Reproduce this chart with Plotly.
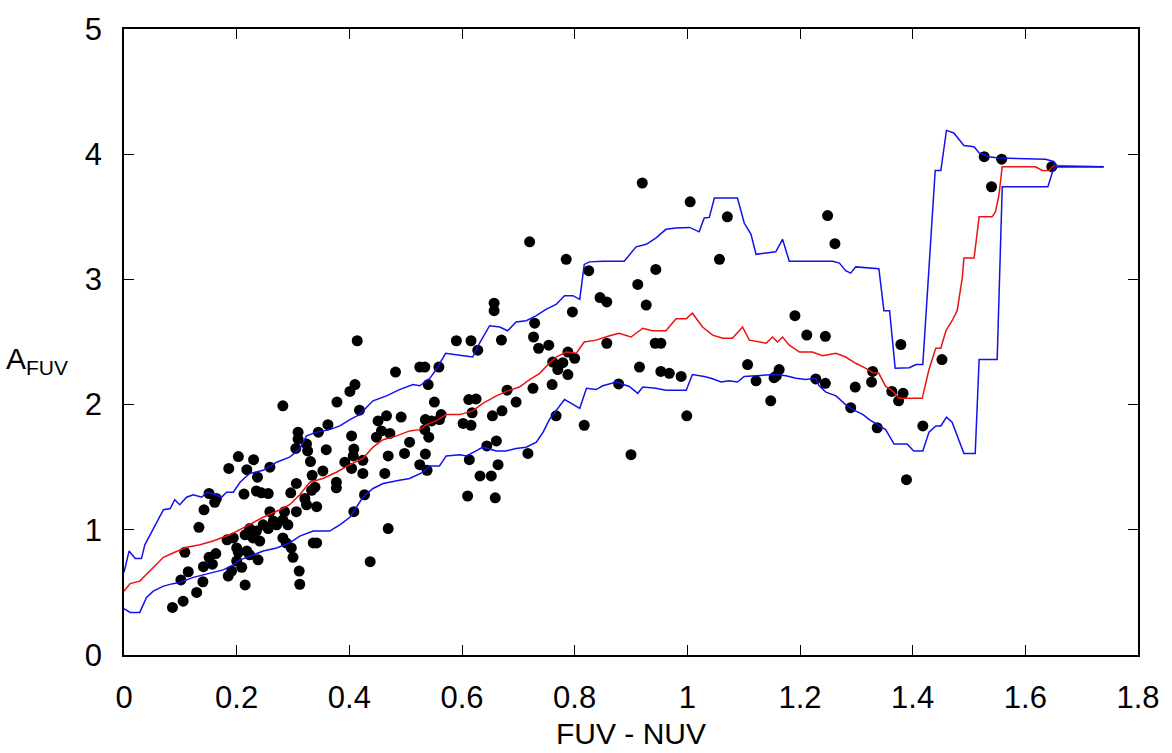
import plotly.graph_objects as go

# ---- scatter data (FUV-NUV, A_FUV) ----
pts_x = [
    0.086, 0.105, 0.129, 0.101, 0.114, 0.140, 0.141, 0.151, 0.163, 0.157, 0.108, 0.133, 0.142, 0.151,
    0.164, 0.161, 0.186, 0.203, 0.185, 0.191, 0.194, 0.200, 0.183,
    0.230, 0.218, 0.237, 0.259, 0.213, 0.235, 0.244, 0.256,
    0.215, 0.223, 0.229, 0.235, 0.247, 0.256, 0.265, 0.271, 0.282, 0.285, 0.291, 0.259, 0.241, 0.218,
    0.223, 0.238, 0.203, 0.200, 0.209, 0.215, 0.282, 0.288, 0.297, 0.300, 0.311, 0.312, 0.306, 0.342,
    0.324, 0.321, 0.336, 0.342, 0.333, 0.339, 0.306, 0.296, 0.334, 0.353, 0.392, 0.377, 0.377, 0.359,
    0.309, 0.309, 0.324, 0.305, 0.326, 0.331, 0.345, 0.362, 0.282, 0.378, 0.401,
    0.414, 0.482, 0.525, 0.534, 0.559, 0.540, 0.410, 0.418, 0.551, 0.590, 0.451, 0.466, 0.492, 0.448,
    0.472, 0.457, 0.404, 0.408, 0.407, 0.404, 0.424, 0.424, 0.469, 0.463, 0.507, 0.498, 0.535, 0.546,
    0.534, 0.541, 0.560, 0.563, 0.535, 0.525, 0.538, 0.427, 0.408, 0.469, 0.437,
    0.720, 0.785, 0.657, 0.657, 0.796, 0.616, 0.628, 0.670, 0.729, 0.727, 0.736, 0.754, 0.761, 0.770,
    0.779, 0.788, 0.788, 0.800, 0.726, 0.760, 0.696, 0.680, 0.612, 0.625, 0.618, 0.602, 0.616, 0.654,
    0.671, 0.767, 0.661, 0.644, 0.613, 0.664, 0.632, 0.652, 0.610, 0.659, 0.717,
    0.920, 1.005, 0.825, 0.944, 0.912, 0.845, 0.857, 0.927, 0.857, 0.943, 0.953, 0.915, 0.953, 0.968,
    0.989, 0.999, 0.817, 0.900, 0.878,
    1.071, 1.057, 1.191, 1.212, 1.107, 1.122, 1.163, 1.158, 1.154, 1.148, 1.249, 1.262, 1.245, 1.228,
    1.245, 1.298, 1.327, 1.329, 1.290, 1.337,
    1.527, 1.558, 1.540, 1.647, 1.379, 1.452, 1.363, 1.383, 1.375, 1.418, 1.389,
]
pts_y = [
    0.38, 0.43, 0.50, 0.60, 0.665, 0.585, 0.705, 0.78, 0.81, 0.725, 0.82, 1.02, 1.16, 1.29,
    1.25, 1.22, 1.49, 1.585, 0.63, 0.67, 0.935, 0.855, 0.92,
    1.56, 1.48, 1.42, 1.50, 1.285, 1.31, 1.295, 1.29,
    0.96, 1.01, 0.935, 0.99, 1.04, 1.01, 1.07, 1.04, 1.08, 1.145, 1.04, 1.145, 0.91, 0.83,
    0.80, 0.76, 0.82, 0.75, 0.70, 0.56, 0.935, 0.895, 0.855, 0.78, 0.67, 0.565, 1.145, 1.185,
    1.20, 1.25, 0.895, 0.895, 1.315, 1.34, 1.37, 1.295, 1.435, 1.47, 1.54, 1.38, 1.335, 1.64,
    1.78, 1.725, 1.685, 1.65, 1.63, 1.545, 1.78, 1.84, 1.99, 2.02, 2.105,
    2.51, 2.26, 2.30, 2.30, 2.30, 2.16, 2.16, 1.955, 2.02, 2.51, 1.87, 1.91, 1.90, 1.74,
    1.77, 1.79, 1.75, 1.645, 1.59, 1.49, 1.555, 1.45, 1.59, 1.45, 1.70, 1.61, 1.88, 1.87,
    1.80, 1.74, 1.88, 1.92, 1.605, 1.52, 1.475, 1.28, 1.145, 1.01, 0.745,
    3.30, 3.16, 2.81, 2.75, 2.74, 2.51, 2.435, 2.515, 2.65, 2.54, 2.45, 2.475, 2.34, 2.28,
    2.335, 2.24, 2.42, 2.37, 2.13, 2.16, 2.02, 2.115, 2.04, 2.045, 1.935, 1.85, 1.835, 1.91,
    1.95, 1.91, 1.71, 1.67, 1.56, 1.52, 1.43, 1.43, 1.27, 1.255, 1.61,
    3.77, 3.62, 3.07, 3.08, 2.96, 2.855, 2.82, 2.795, 2.49, 2.49, 2.49, 2.30, 2.265, 2.25,
    2.225, 1.91, 1.835, 1.60, 2.165,
    3.50, 3.16, 2.71, 2.555, 2.32, 2.19, 2.28, 2.23, 2.215, 2.03, 3.51, 3.285, 2.545, 2.205,
    2.17, 2.14, 2.18, 2.265, 1.975, 1.815,
    3.98, 3.96, 3.74, 3.90, 2.48, 2.36, 2.105, 2.09, 2.03, 1.83, 1.40,
]

# ---- running median (red) ----
med_x = [0.000, 0.011, 0.028, 0.040, 0.052, 0.070, 0.087, 0.111, 0.135, 0.158, 0.188, 0.218, 0.247,
         0.277, 0.294, 0.312, 0.330, 0.353, 0.377, 0.401, 0.424, 0.442, 0.460, 0.484, 0.507, 0.525,
         0.537, 0.554, 0.572, 0.596, 0.619, 0.637, 0.661, 0.681, 0.702, 0.720, 0.738, 0.755, 0.767,
         0.785, 0.803, 0.817, 0.838, 0.862, 0.879, 0.900, 0.921, 0.938, 0.962, 0.980, 0.998, 1.009,
         1.027, 1.045, 1.063, 1.080, 1.098, 1.110, 1.128, 1.140, 1.151, 1.160, 1.169, 1.181, 1.199,
         1.222, 1.240, 1.264, 1.281, 1.299, 1.317, 1.329, 1.340, 1.352, 1.364, 1.376, 1.417, 1.429,
         1.441, 1.450, 1.459, 1.470, 1.479, 1.488, 1.491, 1.509, 1.518, 1.541, 1.547, 1.553, 1.559,
         1.618, 1.630, 1.642, 1.651, 1.739]
med_y = [0.51, 0.57, 0.59, 0.645, 0.70, 0.78, 0.815, 0.86, 0.88, 0.91, 0.96, 1.03, 1.10,
         1.16, 1.20, 1.28, 1.38, 1.41, 1.46, 1.52, 1.57, 1.66, 1.72, 1.75, 1.79, 1.80,
         1.84, 1.87, 1.92, 1.92, 1.95, 2.01, 2.07, 2.11, 2.14, 2.20, 2.25, 2.33, 2.38,
         2.42, 2.41, 2.50, 2.515, 2.55, 2.57, 2.54, 2.61, 2.59, 2.59, 2.685, 2.685, 2.73,
         2.62, 2.555, 2.53, 2.53, 2.62, 2.515, 2.50, 2.49, 2.54, 2.50, 2.54, 2.475, 2.42,
         2.42, 2.39, 2.41, 2.38, 2.33, 2.29, 2.255, 2.25, 2.145, 2.11, 2.05, 2.05, 2.28,
         2.45, 2.45, 2.59, 2.67, 2.75, 3.01, 3.17, 3.17, 3.50, 3.50, 3.54, 3.67, 3.90,
         3.90, 3.87, 3.87, 3.91, 3.90]

# ---- upper envelope (blue) ----
up_x = [0.000, 0.009, 0.020, 0.031, 0.037, 0.052, 0.070, 0.082, 0.090, 0.099, 0.111, 0.123, 0.138,
        0.147, 0.164, 0.173, 0.182, 0.194, 0.206, 0.223, 0.247, 0.271, 0.294, 0.312, 0.324, 0.342,
        0.365, 0.383, 0.401, 0.418, 0.442, 0.466, 0.489, 0.513, 0.525, 0.543, 0.554, 0.571, 0.584,
        0.602, 0.619, 0.631, 0.649, 0.667, 0.681, 0.696, 0.714, 0.732, 0.749, 0.767, 0.782, 0.797,
        0.809, 0.817, 0.826, 0.850, 0.888, 0.909, 0.927, 0.944, 0.962, 0.980, 1.004, 1.021, 1.030,
        1.039, 1.048, 1.089, 1.101, 1.113, 1.122, 1.157, 1.169, 1.181, 1.258, 1.270, 1.281, 1.290,
        1.299, 1.340, 1.349, 1.359, 1.369, 1.394, 1.406, 1.418, 1.440, 1.450, 1.460, 1.473, 1.482,
        1.491, 1.509, 1.518, 1.535, 1.553, 1.636, 1.651, 1.654, 1.739]
up_y = [0.66, 0.83, 0.77, 0.77, 0.88, 1.01, 1.16, 1.17, 1.24, 1.20, 1.26, 1.28, 1.26,
        1.30, 1.28, 1.26, 1.30, 1.30, 1.38, 1.45, 1.475, 1.54, 1.58, 1.645, 1.75, 1.78,
        1.80, 1.83, 1.88, 1.92, 2.03, 2.07, 2.12, 2.16, 2.15, 2.21, 2.28, 2.41, 2.40,
        2.39, 2.38, 2.49, 2.63, 2.62, 2.59, 2.66, 2.67, 2.71, 2.76, 2.80, 2.87, 2.87,
        2.84, 3.12, 3.14, 3.145, 3.145, 3.26, 3.28, 3.33, 3.40, 3.41, 3.415, 3.38, 3.49,
        3.495, 3.65, 3.65, 3.45, 3.36, 3.20, 3.22, 3.32, 3.145, 3.145, 3.13, 3.07, 3.05,
        3.10, 3.085, 2.75, 2.75, 2.29, 2.295, 2.32, 2.32, 3.87, 3.87, 4.19, 4.17, 4.12,
        4.07, 4.06, 4.01, 3.98, 3.97, 3.96, 3.94, 3.90, 3.90]

# ---- lower envelope (blue) ----
lo_x = [0.000, 0.011, 0.028, 0.040, 0.052, 0.070, 0.087, 0.099, 0.123, 0.141, 0.158, 0.176, 0.194,
        0.206, 0.218, 0.247, 0.271, 0.294, 0.312, 0.336, 0.365, 0.383, 0.401, 0.424, 0.442, 0.460,
        0.489, 0.507, 0.531, 0.543, 0.560, 0.572, 0.596, 0.608, 0.625, 0.637, 0.661, 0.678, 0.696,
        0.714, 0.732, 0.744, 0.755, 0.767, 0.782, 0.794, 0.809, 0.821, 0.838, 0.850, 0.874, 0.897,
        0.912, 0.921, 0.944, 0.962, 0.998, 1.009, 1.030, 1.042, 1.060, 1.074, 1.089, 1.101, 1.122,
        1.157, 1.175, 1.193, 1.210, 1.228, 1.234, 1.246, 1.264, 1.281, 1.294, 1.312, 1.323, 1.340,
        1.352, 1.367, 1.390, 1.402, 1.418, 1.429, 1.441, 1.450, 1.460, 1.470, 1.479, 1.491, 1.511,
        1.518, 1.550, 1.559, 1.640, 1.649, 1.654, 1.739]
lo_y = [0.37, 0.34, 0.34, 0.46, 0.51, 0.55, 0.57, 0.58, 0.62, 0.64, 0.66, 0.68, 0.72,
        0.76, 0.78, 0.83, 0.855, 0.895, 0.95, 0.99, 0.99, 1.04, 1.10, 1.26, 1.33, 1.37,
        1.395, 1.41, 1.46, 1.51, 1.51, 1.59, 1.60, 1.59, 1.63, 1.66, 1.63, 1.63, 1.65,
        1.66, 1.70, 1.78, 1.88, 1.95, 2.04, 2.01, 1.97, 2.13, 2.12, 2.15, 2.18, 2.145,
        2.09, 2.14, 2.13, 2.115, 2.115, 2.24, 2.225, 2.21, 2.18, 2.19, 2.18, 2.225, 2.23,
        2.24, 2.23, 2.21, 2.20, 2.21, 2.15, 2.10, 2.07, 2.00, 1.96, 1.92, 1.88, 1.83,
        1.80, 1.685, 1.685, 1.63, 1.63, 1.78, 1.83, 1.83, 1.90, 1.86, 1.75, 1.61, 1.61,
        2.36, 2.36, 3.74, 3.74, 3.87, 3.90, 3.90]

x_ticks = [0, 0.2, 0.4, 0.6, 0.8, 1.0, 1.2, 1.4, 1.6, 1.8]
x_tick_labels = ["0", "0.2", "0.4", "0.6", "0.8", "1", "1.2", "1.4", "1.6", "1.8"]
y_ticks = [0, 1, 2, 3, 4, 5]
y_tick_labels = ["0", "1", "2", "3", "4", "5"]

FONT = "Liberation Sans, Arial, Helvetica, sans-serif"

fig = go.Figure()
fig.add_trace(go.Scatter(x=pts_x, y=pts_y, mode="markers",
                         marker=dict(color="black", size=11, line=dict(width=0)),
                         showlegend=False))
fig.add_trace(go.Scatter(x=med_x, y=med_y, mode="lines",
                         line=dict(color="#ee1111", width=1.5), showlegend=False))
fig.add_trace(go.Scatter(x=up_x, y=up_y, mode="lines",
                         line=dict(color="#1111ee", width=1.5), showlegend=False))
fig.add_trace(go.Scatter(x=lo_x, y=lo_y, mode="lines",
                         line=dict(color="#1111ee", width=1.5), showlegend=False))

axis_common = dict(showgrid=False, zeroline=False, showline=True, linecolor="black",
                   linewidth=1.5, mirror="allticks", ticks="inside", ticklen=10,
                   tickwidth=1.2, tickcolor="black",
                   tickfont=dict(family=FONT, size=31, color="black"))

fig.update_xaxes(range=[0, 1.8], tickvals=x_ticks, ticktext=x_tick_labels,
                 ticklabelstandoff=14, **axis_common)
fig.update_yaxes(range=[0, 5], tickvals=y_ticks, ticktext=y_tick_labels,
                 ticklabelstandoff=14, **axis_common)

fig.add_annotation(xref="paper", yref="paper", x=0.5, y=-0.126, yanchor="middle",
                   text="FUV - NUV", showarrow=False,
                   font=dict(family=FONT, size=30, color="black"))
fig.add_annotation(xref="paper", yref="paper", x=-0.053, y=0.47, xanchor="right",
                   yanchor="middle", text="A<sub>FUV</sub>", showarrow=False,
                   font=dict(family=FONT, size=30, color="black"))

fig.update_layout(width=1172, height=753, plot_bgcolor="white", paper_bgcolor="white",
                  margin=dict(l=124, r=33, t=22, b=98))

fig.write_html("out.html")
